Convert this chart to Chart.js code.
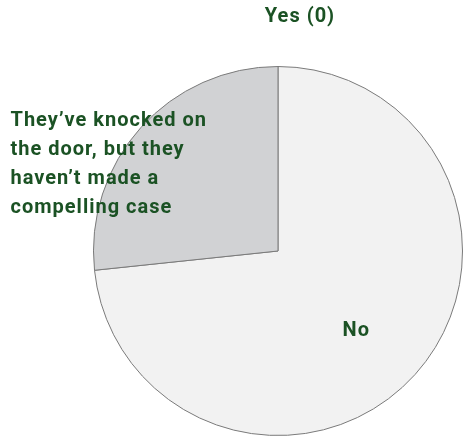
<!DOCTYPE html>
<html>
<head>
<meta charset="utf-8">
<script src="https://cdn.jsdelivr.net/npm/chart.js@4"></script>
<style>
  html, body { margin: 0; padding: 0; background: #fff; }
  #wrap { width: 463px; height: 439px; }
</style>
</head>
<body>
<div id="wrap"><canvas id="pieChart"></canvas></div>
<script>
const labels = ['Yes (0)', 'No', "They\u2019ve knocked on the door, but they haven\u2019t made a compelling case"];
const values = [0, 11, 4];
const sliceColors = ['#e0e0e0', '#f2f2f2', '#d1d2d4'];
// how each label is shown on the picture (wrapped lines)
const labelLines = [
    ['Yes (0)'],
    ['No'],
    ["They\u2019ve knocked on", 'the door, but they', "haven\u2019t made a", 'compelling case']
];

const textColor = '#1b5224';

// draws the slice labels next to / inside the arcs
const sliceLabels = {
    id: 'sliceLabels',
    afterDatasetsDraw(chart) {
        const c = chart.ctx;
        const arcs = chart.getDatasetMeta(0).data;
        const a0 = arcs[0];
        const cx = a0.x, cy = a0.y, r = a0.outerRadius;
        c.save();
        c.fillStyle = textColor;
        c.font = 'bold 20px Roboto';
        c.letterSpacing = '1px';
        c.textBaseline = 'middle';

        // zero slice: above the top of the pie
        c.textAlign = 'center';
        c.fillText(labelLines[0][0], cx + 22, cy - r - 50);

        // No: inside its slice
        const noArc = arcs[1];
        const mid = (noArc.startAngle + noArc.endAngle) / 2;
        c.fillText(labelLines[1][0], cx + Math.cos(mid) * r * 0.6 - 4, cy + Math.sin(mid) * r * 0.6 + 6);

        // third slice: block to the left
        c.textAlign = 'left';
        labelLines[2].forEach((line, i) => {
            c.fillText(line, cx - r - 83, cy - r + 54 + i * 29);
        });
        c.restore();
    }
};

new Chart(document.getElementById('pieChart'), {
    type: 'pie',
    data: {
        labels: labels,
        datasets: [{
            data: values,
            backgroundColor: sliceColors,
            borderColor: '#7a7a7a',
            borderWidth: 1
        }]
    },
    options: {
        responsive: true,
        maintainAspectRatio: false,
        animation: false,
        layout: { padding: { left: 93, right: 0, top: 66, bottom: 3 } },
        plugins: {
            legend: { display: false },
            tooltip: { enabled: false }
        }
    },
    plugins: [sliceLabels]
});
</script>
</body>
</html>
